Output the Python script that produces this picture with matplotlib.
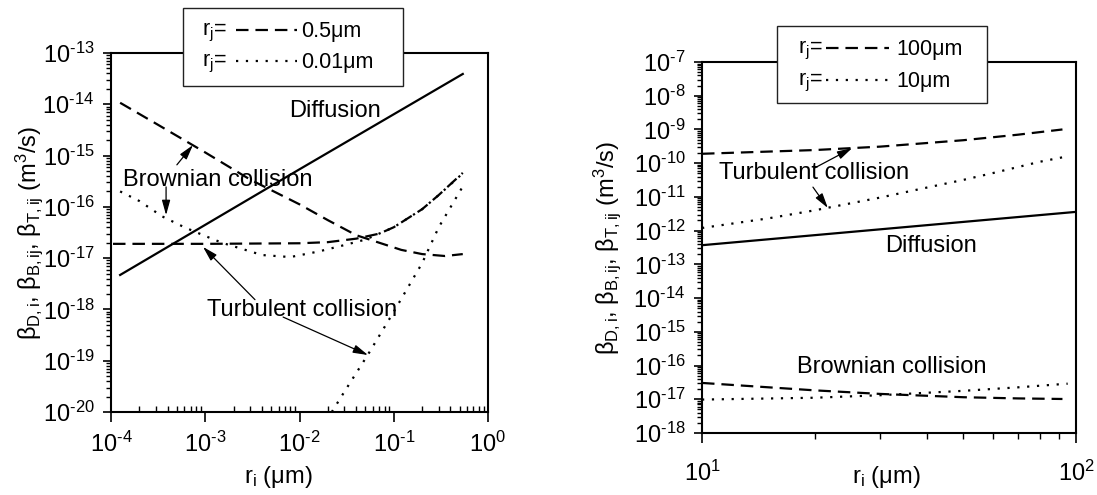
import numpy as np
import matplotlib
matplotlib.use('Agg')
import matplotlib.pyplot as plt
from matplotlib.ticker import LogLocator, NullFormatter, FuncFormatter
from matplotlib.lines import Line2D
from matplotlib.patches import Rectangle

plt.rcParams['font.family'] = ['Liberation Sans', 'DejaVu Sans']
plt.rcParams['mathtext.fontset'] = 'custom'
plt.rcParams['mathtext.rm'] = 'Liberation Sans'
plt.rcParams['mathtext.it'] = 'Liberation Sans:italic'
plt.rcParams['mathtext.bf'] = 'Liberation Sans:bold'
plt.rcParams['axes.unicode_minus'] = False
plt.rcParams['lines.scale_dashes'] = False

# ---------------- Left panel data (r_j = 0.5 um dashed, 0.01 um dotted) ----------------
L_diff_x = [1.25e-4, 1e-2, 0.54]
L_diff_y = [4.7e-18, 5.4e-16, 3.9e-14]

L_brown05_x = [1.25e-4, 3e-4, 1e-3, 3e-3, 1e-2, 2e-2, 4e-2, 7e-2, 0.12, 0.2, 0.35, 0.54]
L_brown05_y = [1.07e-14, 4.2e-15, 1.15e-15, 3.4e-16, 1.12e-16, 5.5e-17, 2.8e-17, 2.0e-17,
               1.45e-17, 1.2e-17, 1.1e-17, 1.2e-17]

L_brown001_x = [1.25e-4, 2e-4, 3.5e-4, 6e-4, 1e-3, 1.5e-3, 2.5e-3, 4e-3, 8e-3, 1.6e-2,
                3e-2, 5e-2, 0.1, 0.2, 0.3, 0.54]
L_brown001_y = [2.0e-16, 1.3e-16, 6.5e-17, 4.0e-17, 2.7e-17, 2.0e-17, 1.5e-17, 1.15e-17,
                1.05e-17, 1.35e-17, 1.8e-17, 2.3e-17, 4.0e-17, 9e-17, 1.7e-16, 4.5e-16]

L_turb05_x = [1.05e-4, 1e-3, 1e-2, 2e-2, 4e-2, 7e-2, 0.1, 0.2, 0.3, 0.54]
L_turb05_y = [1.9e-17, 1.9e-17, 1.95e-17, 2.05e-17, 2.4e-17, 3.0e-17, 4.0e-17, 9e-17,
              1.7e-16, 4.6e-16]

L_turb001_x = [0.022, 0.03, 0.053, 0.1, 0.2, 0.3, 0.54]
L_turb001_y = [1.0e-20, 2.5e-20, 1.3e-19, 9e-19, 8e-18, 4e-17, 2.5e-16]

# ---------------- Right panel data (r_j = 100 um dashed, 10 um dotted) ----------------
R_diff_x = [10, 100]
R_diff_y = [3.7e-13, 3.6e-12]

R_turb100_x = [10, 20, 30, 50, 70, 92]
R_turb100_y = [1.9e-10, 2.45e-10, 3.1e-10, 4.8e-10, 7.0e-10, 1.0e-9]

R_turb10_x = [10, 15, 20, 30, 40, 50, 60, 70, 80, 95]
R_turb10_y = [1.2e-12, 2.3e-12, 4.0e-12, 9.6e-12, 1.9e-11, 3.2e-11, 5.1e-11, 7.7e-11,
              1.1e-10, 1.6e-10]

R_brown100_x = [10, 20, 30, 50, 70, 92]
R_brown100_y = [3.05e-17, 1.84e-17, 1.44e-17, 1.15e-17, 1.06e-17, 1.02e-17]

R_brown10_x = [10, 20, 30, 50, 70, 95]
R_brown10_y = [9.8e-18, 1.11e-17, 1.32e-17, 1.78e-17, 2.26e-17, 2.9e-17]

W, H = 1097, 495
fig = plt.figure(figsize=(W / 100, H / 100), dpi=100)

DASH = (0, (9, 5))
DOT = (0, (1.6, 5.5))
LW = 1.6
TS = 17
LS = 15.5

def fx(px):
    return px / W

def fy(py):
    return 1 - py / H

def pow_label(v, pos):
    e = int(round(np.log10(v)))
    s = str(e).replace('-', '\u2010')
    return r'$\mathregular{10^{%s}}$' % s

axL = fig.add_axes([fx(111), fy(412), (488 - 111) / W, (412 - 53) / H])
axR = fig.add_axes([fx(702), fy(433), (1076 - 702) / W, (433 - 62) / H])

# ---- left ----
axL.plot(L_diff_x, L_diff_y, color='k', lw=LW, ls='-')
axL.plot(L_brown05_x, L_brown05_y, color='k', lw=LW, ls=DASH)
axL.plot(L_brown001_x, L_brown001_y, color='k', lw=LW, ls=DOT)
axL.plot(L_turb05_x, L_turb05_y, color='k', lw=LW, ls=DASH)
axL.plot(L_turb001_x, L_turb001_y, color='k', lw=LW, ls=DOT)
axL.set_xscale('log')
axL.set_yscale('log')
axL.set_xlim(1e-4, 1)
axL.set_ylim(1e-20, 1e-13)

axL.text(2.38e-2, 7.4e-15, 'Diffusion', fontsize=TS, ha='center', va='center')
axL.text(1.36e-3, 3.34e-16, 'Brownian collision', fontsize=TS, ha='center', va='center')
axL.text(1.06e-2, 9.8e-19, 'Turbulent collision', fontsize=TS, ha='center', va='center')

arrow_kw = dict(arrowstyle='-|>,head_length=0.9,head_width=0.25', lw=0.9, color='k',
                shrinkA=0, shrinkB=0)
axL.annotate('', xy=(7.4e-4, 1.6e-15), xytext=(5.0e-4, 6.6e-16), arrowprops=arrow_kw)
axL.annotate('', xy=(3.84e-4, 6.9e-17), xytext=(3.84e-4, 2.45e-16), arrowprops=arrow_kw)
axL.annotate('', xy=(9.46e-4, 1.66e-17), xytext=(3.37e-3, 1.55e-18), arrowprops=arrow_kw)
axL.annotate('', xy=(5.33e-2, 1.29e-19), xytext=(6.7e-3, 7.1e-19), arrowprops=arrow_kw)

ylab = r'$\mathrm{\beta_{D,i}}$, $\mathrm{\beta_{B,ij}}$, $\mathrm{\beta_{T,ij}}$ (m$^3$/s)'
xlab = r'r$_\mathrm{i}$ ($\mathrm{\mu}$m)'

axL.set_xlabel(xlab, fontsize=TS)
axL.set_ylabel(ylab, fontsize=TS)
axL.xaxis.set_label_coords((278 - 111) / (488 - 111), -(464 - 412) / (412 - 53))
axL.yaxis.set_label_coords(-(111 - 45) / (488 - 111), 0.5)

# ---- right ----
axR.plot(R_diff_x, R_diff_y, color='k', lw=LW, ls='-')
axR.plot(R_turb100_x, R_turb100_y, color='k', lw=LW, ls=DASH)
axR.plot(R_turb10_x, R_turb10_y, color='k', lw=LW, ls=DOT)
axR.plot(R_brown100_x, R_brown100_y, color='k', lw=LW, ls=DASH)
axR.plot(R_brown10_x, R_brown10_y, color='k', lw=LW, ls=DOT)
axR.set_xscale('log')
axR.set_yscale('log')
axR.set_xlim(10, 100)
axR.set_ylim(1e-18, 1e-7)

axR.text(19.9, 5.1e-11, 'Turbulent collision', fontsize=TS, ha='center', va='center')
axR.text(40.9, 3.5e-13, 'Diffusion', fontsize=TS, ha='center', va='center')
axR.text(32.2, 9.1e-17, 'Brownian collision', fontsize=TS, ha='center', va='center')
axR.annotate('', xy=(25.2, 2.8e-10), xytext=(20.0, 7.2e-11), arrowprops=arrow_kw)
axR.annotate('', xy=(21.7, 4.7e-12), xytext=(19.8, 1.95e-11), arrowprops=arrow_kw)

axR.set_xlabel(xlab, fontsize=TS)
axR.set_ylabel(ylab, fontsize=TS)
axR.xaxis.set_label_coords((886 - 702) / (1076 - 702), -(464 - 433) / (433 - 62))
axR.yaxis.set_label_coords(-(702 - 623) / (1076 - 702), 0.5)

for ax in (axL, axR):
    for s in ax.spines.values():
        s.set_linewidth(1.5)
    ax.yaxis.set_major_locator(LogLocator(base=10, numticks=30))
    ax.yaxis.set_minor_locator(LogLocator(base=10, subs=np.arange(2, 10), numticks=30))
    ax.yaxis.set_major_formatter(FuncFormatter(pow_label))
    ax.yaxis.set_minor_formatter(NullFormatter())
    ax.xaxis.set_major_locator(LogLocator(base=10, numticks=30))
    ax.xaxis.set_minor_locator(LogLocator(base=10, subs=np.arange(2, 10), numticks=30))
    ax.xaxis.set_major_formatter(FuncFormatter(pow_label))
    ax.xaxis.set_minor_formatter(NullFormatter())
    ax.tick_params(axis='y', which='major', direction='out', length=6, width=1.2,
                   labelsize=TS, pad=6)
    ax.tick_params(axis='y', which='minor', direction='out', length=3.5, width=1.0)

axL.tick_params(axis='x', which='major', direction='out', length=7, width=1.2,
                labelsize=TS, pad=7)
axL.tick_params(axis='x', which='minor', direction='in', length=4, width=1.0)
axR.tick_params(axis='x', which='major', direction='out', length=7, width=1.2,
                labelsize=TS, pad=13)
axR.tick_params(axis='x', which='minor', direction='out', length=4, width=1.0)

# ---- legends (drawn on top of the figure) ----
def legend_box(x0, y0, x1, y1, rows):
    fig.add_artist(Rectangle((fx(x0), fy(y1)), (x1 - x0) / W, (y1 - y0) / H,
                             transform=fig.transFigure, facecolor='white',
                             edgecolor='#222222', lw=1.0, zorder=10))
    for (ty, tx, lx0, lx1, vx, style, label) in rows:
        fig.text(fx(tx), fy(ty), r'r$_\mathrm{j}$=', fontsize=LS, va='center',
                 ha='left', zorder=11)
        fig.add_artist(Line2D([fx(lx0), fx(lx1)], [fy(ty - 2), fy(ty - 2)],
                              transform=fig.transFigure, color='k', lw=LW, ls=style,
                              zorder=11))
        fig.text(fx(vx), fy(ty), label, fontsize=LS, va='center', ha='left', zorder=11)

legend_box(183, 8, 403, 86, [
    (32, 202, 236, 297, 301, DASH, '0.5μm'),
    (63, 202, 236, 297, 301, DOT, '0.01μm'),
])
legend_box(777, 26, 987, 103, [
    (50, 798, 826, 889, 896, DASH, '100μm'),
    (82, 798, 826, 889, 896, DOT, '10μm'),
])

fig.savefig('out.png', dpi=100)
